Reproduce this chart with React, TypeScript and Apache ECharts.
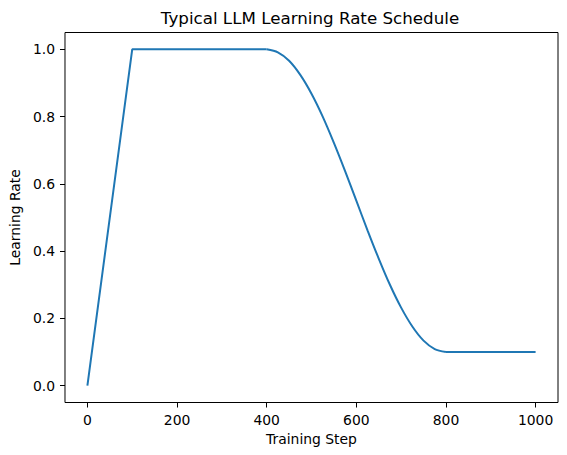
import React, { useEffect, useRef } from 'react';
import * as echarts from 'echarts';

// training steps and learning rate
const steps = [
    0, 100, 400, 425, 450, 475, 500, 525, 550, 575, 600,
    625, 650, 675, 700, 725, 750, 775, 800, 1000,
];
const learningRate = [
    0.0, 1.0, 1.0, 0.991, 0.966, 0.924, 0.868, 0.8, 0.722, 0.638, 0.55,
    0.462, 0.378, 0.3, 0.232, 0.176, 0.134, 0.109, 0.1, 0.1,
];
const xTicks = [0, 200, 400, 600, 800, 1000];
const yTicks = [0, 0.2, 0.4, 0.6, 0.8, 1.0];

const FONT = 'DejaVu Sans';
const C0 = '#1f77b4';

export default function App() {
    const chartRef = useRef<HTMLDivElement | null>(null);

    useEffect(() => {
        document.body.style.margin = '0';
        if (!chartRef.current) return;
        const chart = echarts.init(chartRef.current, null, { renderer: 'svg' });

        const points = steps.map((s, i) => [s, learningRate[i]]);
        const decayStart = steps.indexOf(400);
        const decayEnd = steps.indexOf(800);
        // the cosine part is smoothed, the warmup and tail stay straight
        const line = (data: number[][], smooth: number) => ({
            type: 'line',
            data,
            symbol: 'none',
            smooth,
            lineStyle: { color: C0, width: 2 },
        });

        const option = {
            animation: false,
            backgroundColor: '#fff',
            textStyle: { fontFamily: FONT },
            graphic: [
                {
                    type: 'text',
                    x: 310,
                    y: 18,
                    style: {
                        text: 'Typical LLM Learning Rate Schedule',
                        fontFamily: FONT,
                        fontSize: 16.7,
                        fill: '#000',
                        textAlign: 'center',
                        textVerticalAlign: 'middle',
                    },
                },
            ],
            grid: {
                left: 62,
                right: 9,
                top: 32.5,
                bottom: 52.5,
                show: true,
                borderColor: '#000',
                borderWidth: 1,
                backgroundColor: 'transparent',
            },
            xAxis: {
                type: 'value',
                min: -50,
                max: 1050,
                name: 'Training Step',
                nameLocation: 'middle',
                nameGap: 29,
                nameTextStyle: { color: '#000', fontSize: 13.9, fontFamily: FONT },
                axisLine: { show: false, onZero: false },
                splitLine: { show: false },
                axisTick: { show: true, length: 5, lineStyle: { color: '#000' }, customValues: xTicks },
                axisLabel: {
                    color: '#000',
                    fontSize: 13.9,
                    margin: 10,
                    fontFamily: FONT,
                    customValues: xTicks,
                    formatter: (v: number) => String(v),
                },
            },
            yAxis: {
                type: 'value',
                min: -0.05,
                max: 1.05,
                name: 'Learning Rate',
                nameLocation: 'middle',
                nameGap: 38,
                nameTextStyle: { color: '#000', fontSize: 13.9, fontFamily: FONT },
                axisLine: { show: false, onZero: false },
                splitLine: { show: false },
                axisTick: { show: true, length: 5, lineStyle: { color: '#000' }, customValues: yTicks },
                axisLabel: {
                    color: '#000',
                    fontSize: 13.9,
                    margin: 10,
                    fontFamily: FONT,
                    customValues: yTicks,
                    formatter: (v: number) => v.toFixed(1),
                },
            },
            series: [
                line(points.slice(0, decayStart + 1), 0),
                line(points.slice(decayStart, decayEnd + 1), 0.3),
                line(points.slice(decayEnd), 0),
            ],
        };

        chart.setOption(option);
        return () => {
            chart.dispose();
        };
    }, []);

    return <div ref={chartRef} style={{ width: '567px', height: '455px' }} />;
}
